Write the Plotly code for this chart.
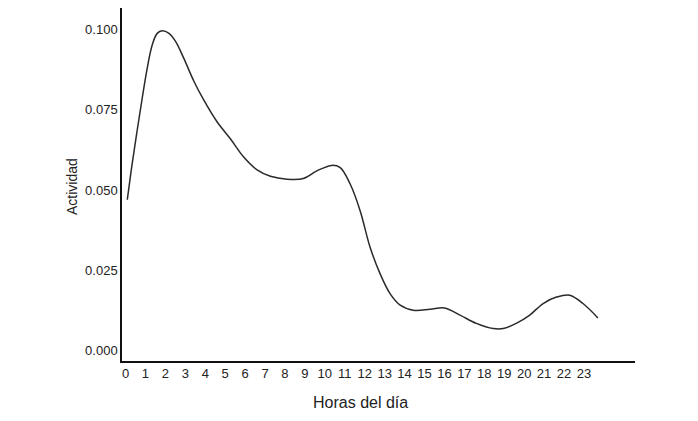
import plotly.graph_objects as go

# Hours of the day (curve sample positions) and activity values
hours = [0.09, 0.34, 0.59, 0.84, 1.09, 1.34, 1.59, 1.84, 2.18, 2.51, 2.92,
         3.43, 3.93, 4.6, 5.26, 5.93, 6.6, 7.27, 8.1, 8.92, 9.6, 10.35,
         10.77, 11.27, 11.77, 12.27, 12.77, 13.27, 13.78, 14.44, 15.28, 16.0,
         16.78, 17.6, 18.45, 18.95, 19.6, 20.28, 20.95, 21.62, 22.29, 22.95,
         23.7]
activity = [0.0470, 0.0585, 0.0688, 0.0787, 0.0880, 0.0952, 0.0988, 0.0996,
            0.0988, 0.0963, 0.0911, 0.0839, 0.0780, 0.0712, 0.0660, 0.0603,
            0.0563, 0.0543, 0.0534, 0.0536, 0.0560, 0.0577, 0.0570, 0.0519,
            0.0436, 0.0322, 0.0240, 0.0178, 0.0142, 0.0126, 0.0129, 0.0133,
            0.0111, 0.0085, 0.0069, 0.0069, 0.0085, 0.0111, 0.0147, 0.0167,
            0.0173, 0.0147, 0.0102]

hour_ticks = list(range(24))
hour_labels = [str(h) for h in hour_ticks]
y_ticks = [0.0, 0.025, 0.05, 0.075, 0.1]
y_labels = ["0.000", "0.025", "0.050", "0.075", "0.100"]

FONT = "Liberation Sans, Arial, sans-serif"

fig = go.Figure()
fig.add_trace(go.Scatter(
    x=hours, y=activity, mode="lines",
    line=dict(color="#2a2a2a", width=1.5, shape="spline", smoothing=1.0),
    hoverinfo="x+y", showlegend=False,
))

fig.update_layout(
    width=698, height=421,
    margin=dict(l=114, r=71, t=0, b=68),
    paper_bgcolor="white", plot_bgcolor="white",
    font=dict(family=FONT, size=13, color="#222222"),
    xaxis=dict(
        range=[-0.176, 25.56], tickmode="array", tickvals=hour_ticks,
        ticktext=hour_labels, showgrid=False, zeroline=False,
        showline=True, linecolor="#111111", linewidth=1.5, ticks="",
        tickfont=dict(size=13, color="#222222"),
    ),
    yaxis=dict(
        range=[-0.0032, 0.1067], tickmode="array", tickvals=y_ticks,
        ticktext=y_labels, showgrid=False, zeroline=False,
        showline=True, linecolor="#111111", linewidth=1.5, ticks="",
        tickfont=dict(size=13, color="#222222"),
    ),
    annotations=[
        dict(text="Actividad", xref="paper", yref="paper", x=-0.0975, y=0.4955,
             textangle=-90, showarrow=False, xanchor="center", yanchor="middle",
             font=dict(size=14, color="#222222", family=FONT)),
        dict(text="Horas del día", xref="paper", yref="paper", x=0.465, y=-0.1186,
             showarrow=False, xanchor="center", yanchor="middle",
             font=dict(size=16, color="#222222", family=FONT)),
    ],
)

fig.write_html("out.html")
